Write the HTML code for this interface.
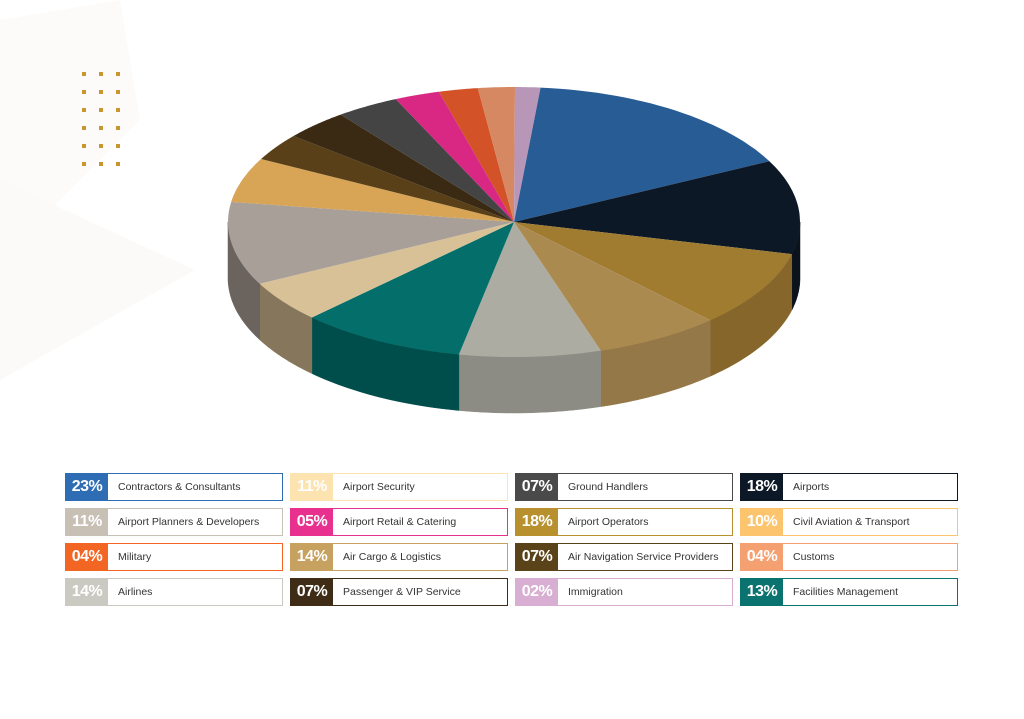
<!DOCTYPE html>
<html><head><meta charset="utf-8"><style>
body{margin:0;width:1024px;height:719px;background:#fff;position:relative;overflow:hidden;font-family:"Liberation Sans",sans-serif}
.it{position:absolute;width:216px;height:26px;border:1px solid;display:flex;align-items:center;background:#fff}
.p{width:42px;height:26px;color:#fff;font-weight:bold;font-size:16px;display:flex;align-items:center;justify-content:center;letter-spacing:-0.5px}
.l{font-size:10.5px;color:#333;margin-left:10px;white-space:nowrap}
</style></head><body>
<svg width="1024" height="719" style="position:absolute;left:0;top:0">
<polygon points="0,20 120,0 140,120 0,260" fill="#fcfbf9"/>
<polygon points="0,180 195,270 0,380" fill="#fbfaf8"/>
<g id="dots" fill="#c8962e"></g>
<g id="pie"></g>
</svg>
<div id="leg"></div>
<script>
var d=document.getElementById('dots'),s='';
for(var i=0;i<3;i++)for(var j=0;j<6;j++)s+='<rect x="'+(82+i*17)+'" y="'+(72+j*18)+'" width="4" height="4"/>';
d.innerHTML=s;
var cx=514,cy=222,rx=286,ry=135,D=56;
var pts=[[540,90],[745,167],[800,255],[730,330],[605,357],[462,347],[332,308],[263,283],[233,202],[245,155],[278,130],[325,105],[385,88],[435,85],[477,85],[515,88]];
var cols=['#285c94','#0d1826','#a07c30','#ab8a50','#acaca2','#036e6a','#d8c196','#a8a098','#d8a455','#5a4018','#3a2a14','#444444','#d82884','#d45228','#d68862','#b896b8'];
var side=['#1e4670','#0a121c','#86662a','#957848','#8c8c84','#004e4c','#85765c','#6a635e','#a07c3c','#40300f','#2a1f0e','#333','#a01e62','#9c3c1e','#a06448','#8a7090'];
function ang(p){return Math.atan2((p[1]-cy)/ry,(p[0]-cx)/rx);}
var A=pts.map(ang);
function P(a,dy){return (cx+rx*Math.cos(a)).toFixed(1)+','+(cy+ry*Math.sin(a)+(dy||0)).toFixed(1);}
var sides='',tops='';
for(var k=0;k<16;k++){
 var a0=A[k],a1=A[(k+1)%16];while(a1<a0)a1+=2*Math.PI;
 var t='M'+cx+','+cy+' L';
 for(var n=0;n<=30;n++)t+=P(a0+(a1-a0)*n/30)+' ';
 tops+='<path d="'+t+'Z" fill="'+cols[k]+'"/>';
 var lo=a0,hi=a1;
 [[0,Math.PI],[2*Math.PI,3*Math.PI]].forEach(function(r){
  var b0=Math.max(lo,r[0]),b1=Math.min(hi,r[1]);
  if(b1>b0){var u='M',v='';
   for(var n=0;n<=30;n++){var a=b0+(b1-b0)*n/30;u+=P(a)+' L';}
   for(var n=30;n>=0;n--){var a=b0+(b1-b0)*n/30;v+=P(a,D)+' ';}
   sides+='<path d="'+u+v+'Z" fill="'+side[k]+'" stroke="'+side[k]+'" stroke-width="0.5"/>';}
 });
}
document.getElementById('pie').innerHTML=sides+tops;
var L=[
[['23%','Contractors & Consultants','#2e6db4'],['11%','Airport Planners & Developers','#c8bfb5'],['04%','Military','#f26522'],['14%','Airlines','#cbcac2']],
[['11%','Airport Security','#fde3b0'],['05%','Airport Retail & Catering','#e8318f'],['14%','Air Cargo & Logistics','#c6a15f'],['07%','Passenger & VIP Service','#3e2c16']],
[['07%','Ground Handlers','#4a4a4a'],['18%','Airport Operators','#b8912e'],['07%','Air Navigation Service Providers','#5a4318'],['02%','Immigration','#d8aed3']],
[['18%','Airports','#0d1826'],['10%','Civil Aviation & Transport','#fcc46c'],['04%','Customs','#f5a070'],['13%','Facilities Management','#0a7370']]];
var h='';
L.forEach(function(c,i){c.forEach(function(e,j){
h+='<div class="it" style="left:'+(65+i*225)+'px;top:'+(473+j*35)+'px;border-color:'+e[2]+'"><div class="p" style="background:'+e[2]+'">'+e[0]+'</div><div class="l">'+e[1].replace('&','&amp;')+'</div></div>';});});
document.getElementById('leg').innerHTML=h;
</script>
</body></html>
